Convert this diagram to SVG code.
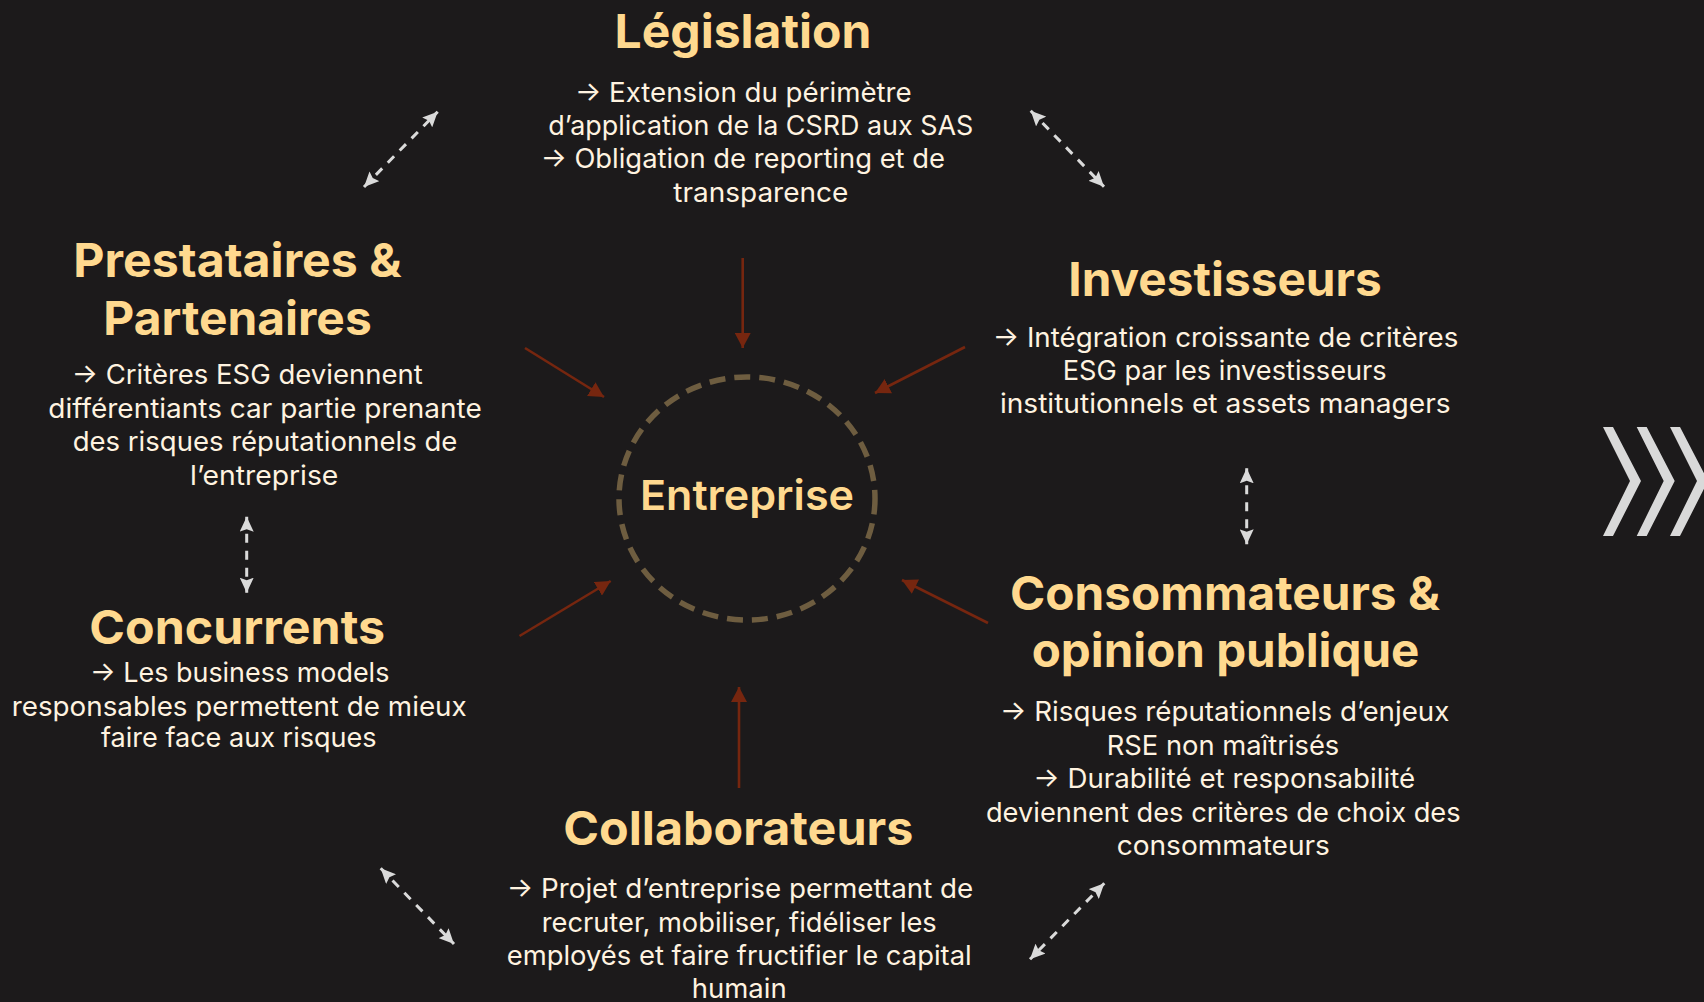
<svg xmlns="http://www.w3.org/2000/svg" width="1704" height="1002" viewBox="0 0 1704 1002">
  <style>
    .title { font-family: Inter, "Open Sans", "Liberation Sans", sans-serif; font-weight: 700; font-size: 47px; fill: #ffd98f; text-anchor: middle; }
    .body { font-family: Inter, "Open Sans", "Liberation Sans", sans-serif; font-weight: 400; font-size: 27px; fill: #fff3e0; text-anchor: middle; }
    .center { font-family: Inter, "Open Sans", "Liberation Sans", sans-serif; font-weight: 600; font-size: 41px; fill: #ffd98f; text-anchor: middle; }
    .red { stroke: #76260f; stroke-width: 2.6; fill: none; marker-end: url(#redHead); }
    .dash { stroke: #dadada; stroke-width: 3; fill: none; stroke-dasharray: 9 8; marker-start: url(#whiteHead); marker-end: url(#whiteHead); }
    .chev { fill: #d9d9d9; }
  </style>
  <defs>
    <marker id="redHead" markerUnits="userSpaceOnUse" markerWidth="16" markerHeight="16" refX="15" refY="8" orient="auto">
      <path d="M0,0 L15,8 L0,16 z" fill="#76260f"/>
    </marker>
    <marker id="whiteHead" markerUnits="userSpaceOnUse" markerWidth="16" markerHeight="14" refX="15" refY="7" orient="auto-start-reverse">
      <path d="M0,0 L15,7 L0,14 L2.5,7 z" fill="#dadada"/>
    </marker>
  </defs>

  <rect x="0" y="0" width="1704" height="1002" fill="#1c1a1b"/>

  <g id="connectors">
    <line class="red" x1="742.7" y1="258" x2="742.7" y2="348"/>
    <line class="red" x1="965" y1="347" x2="875" y2="393"/>
    <line class="red" x1="988" y1="623" x2="902" y2="580"/>
    <line class="red" x1="525" y1="348" x2="604" y2="397"/>
    <line class="red" x1="519.5" y1="636" x2="610.7" y2="581"/>
    <line class="red" x1="739" y1="788" x2="739" y2="687"/>

    <line class="dash" x1="364" y1="187" x2="437.7" y2="111.7"/>
    <line class="dash" x1="1030.7" y1="110.7" x2="1104" y2="186.7"/>
    <line class="dash" x1="380.7" y1="868.3" x2="454" y2="944"/>
    <line class="dash" x1="1104.3" y1="883.3" x2="1030" y2="959.3"/>
    <line class="dash" x1="1246.7" y1="468.3" x2="1246.7" y2="544.3"/>
    <line class="dash" x1="246.7" y1="516.7" x2="246.7" y2="592.7"/>
  </g>

  <g id="entreprise">
    <ellipse cx="747" cy="498.5" rx="128" ry="121.5" fill="none" stroke="#6e5d40" stroke-width="5.5" stroke-dasharray="16 9"/>
    <text class="center" x="747" y="510" textLength="214" lengthAdjust="spacingAndGlyphs">Entreprise</text>
  </g>

  <g id="legislation">
    <text class="title" x="743" y="48.3" textLength="257" lengthAdjust="spacingAndGlyphs">Législation</text>
    <text class="body" x="743.3" y="101.7" textLength="336.7" lengthAdjust="spacingAndGlyphs">→ Extension du périmètre</text>
    <text class="body" x="760.8" y="135" textLength="425" lengthAdjust="spacingAndGlyphs">d’application de la CSRD aux SAS</text>
    <text class="body" x="742.8" y="168.3" textLength="404.3" lengthAdjust="spacingAndGlyphs">→ Obligation de reporting et de</text>
    <text class="body" x="760.8" y="201.7" textLength="175" lengthAdjust="spacingAndGlyphs">transparence</text>
  </g>

  <g id="prestataires">
    <text class="title" x="237.5" y="276.8" textLength="328.4" lengthAdjust="spacingAndGlyphs">Prestataires &amp;</text>
    <text class="title" x="237.5" y="335.4" textLength="268.4" lengthAdjust="spacingAndGlyphs">Partenaires</text>
    <text class="body" x="247.2" y="383.6" textLength="351" lengthAdjust="spacingAndGlyphs">→ Critères ESG deviennent</text>
    <text class="body" x="265" y="418" textLength="433.4" lengthAdjust="spacingAndGlyphs">différentiants car partie prenante</text>
    <text class="body" x="265" y="450.7" textLength="384.6" lengthAdjust="spacingAndGlyphs">des risques réputationnels de</text>
    <text class="body" x="264.2" y="485.2" textLength="148.3" lengthAdjust="spacingAndGlyphs">l’entreprise</text>
  </g>

  <g id="concurrents">
    <text class="title" x="237.2" y="643.6" textLength="295.7" lengthAdjust="spacingAndGlyphs">Concurrents</text>
    <text class="body" x="239.7" y="681.5" textLength="299.3" lengthAdjust="spacingAndGlyphs">→ Les business models</text>
    <text class="body" x="239.2" y="715.9" textLength="455" lengthAdjust="spacingAndGlyphs">responsables permettent de mieux</text>
    <text class="body" x="238.8" y="746.9" textLength="275.7" lengthAdjust="spacingAndGlyphs">faire face aux risques</text>
  </g>

  <g id="investisseurs">
    <text class="title" x="1225" y="296.2" textLength="313.4" lengthAdjust="spacingAndGlyphs">Investisseurs</text>
    <text class="body" x="1225.5" y="346.5" textLength="465.6" lengthAdjust="spacingAndGlyphs">→ Intégration croissante de critères</text>
    <text class="body" x="1224.7" y="379.8" textLength="324" lengthAdjust="spacingAndGlyphs">ESG par les investisseurs</text>
    <text class="body" x="1225.3" y="412.8" textLength="450.7" lengthAdjust="spacingAndGlyphs">institutionnels et assets managers</text>
  </g>

  <g id="consommateurs">
    <text class="title" x="1225" y="609.6" textLength="430" lengthAdjust="spacingAndGlyphs">Consommateurs &amp;</text>
    <text class="title" x="1225.5" y="666.7" textLength="387.6" lengthAdjust="spacingAndGlyphs">opinion publique</text>
    <text class="body" x="1224.7" y="721.3" textLength="449.3" lengthAdjust="spacingAndGlyphs">→ Risques réputationnels d’enjeux</text>
    <text class="body" x="1223" y="755" textLength="232.6" lengthAdjust="spacingAndGlyphs">RSE non maîtrisés</text>
    <text class="body" x="1224.2" y="788.4" textLength="381.7" lengthAdjust="spacingAndGlyphs">→ Durabilité et responsabilité</text>
    <text class="body" x="1223.3" y="821.8" textLength="474.7" lengthAdjust="spacingAndGlyphs">deviennent des critères de choix des</text>
    <text class="body" x="1223.3" y="854.7" textLength="213.3" lengthAdjust="spacingAndGlyphs">consommateurs</text>
  </g>

  <g id="collaborateurs">
    <text class="title" x="738.3" y="845" textLength="350" lengthAdjust="spacingAndGlyphs">Collaborateurs</text>
    <text class="body" x="740" y="898.3" textLength="466.6" lengthAdjust="spacingAndGlyphs">→ Projet d’entreprise permettant de</text>
    <text class="body" x="739.2" y="931.7" textLength="395" lengthAdjust="spacingAndGlyphs">recruter, mobiliser, fidéliser les</text>
    <text class="body" x="739.2" y="965" textLength="465" lengthAdjust="spacingAndGlyphs">employés et faire fructifier le capital</text>
    <text class="body" x="739.2" y="998" textLength="95" lengthAdjust="spacingAndGlyphs">humain</text>
  </g>

  <g id="chevrons">
    <polygon class="chev" points="1603,427 1613,427 1641,481 1613,536 1603,536 1630,481"/>
    <polygon class="chev" points="1636.7,427 1646.7,427 1674.7,481 1646.7,536 1636.7,536 1663.7,481"/>
    <polygon class="chev" points="1670,427 1680,427 1708,481 1680,536 1670,536 1697,481"/>
  </g>
</svg>
